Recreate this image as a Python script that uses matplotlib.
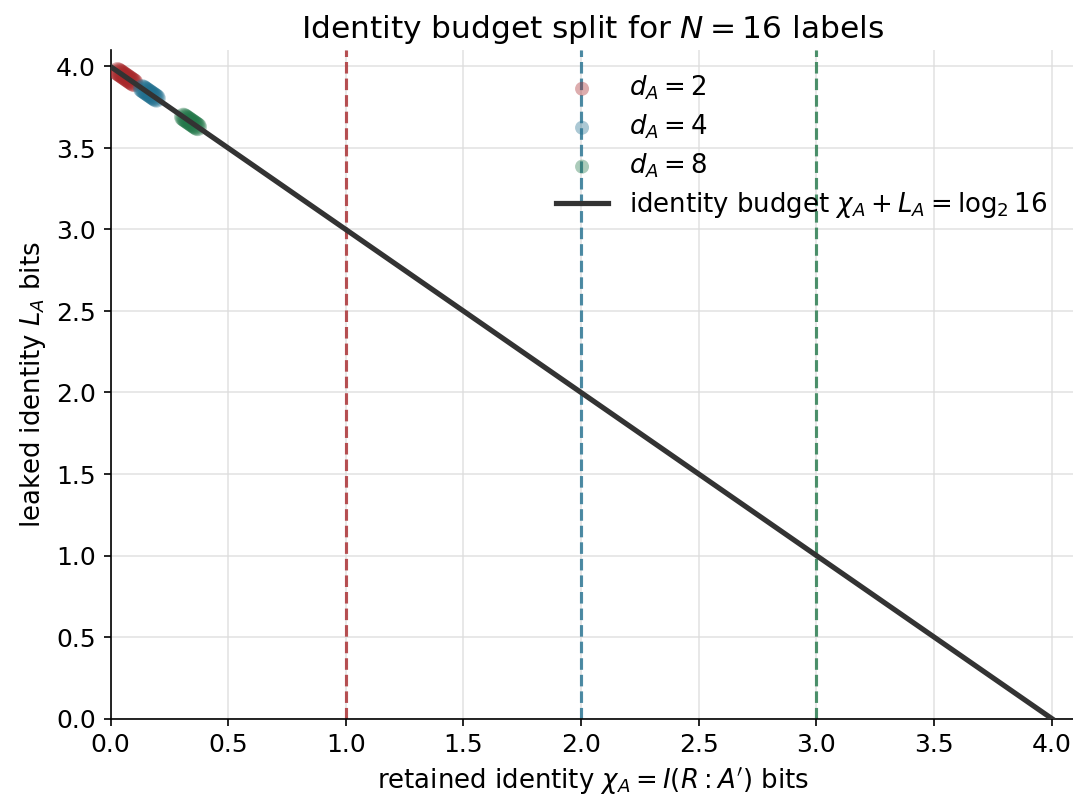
import matplotlib
matplotlib.use("Agg")
import matplotlib.pyplot as plt
import numpy as np

N_LABELS = 16
LOG2N = 4.0

dims = [2, 4, 8]
colors = ["#a8282b", "#22708f", "#23784a"]

# retained identity chi_A per sample
chi_d2 = [0.030, 0.035, 0.040, 0.045, 0.050, 0.055, 0.060, 0.065, 0.070, 0.075, 0.080, 0.085, 0.090, 0.095, 0.100]
chi_d4 = [0.135, 0.140, 0.145, 0.150, 0.155, 0.160, 0.165, 0.170, 0.175, 0.180, 0.185, 0.190, 0.195]
chi_d8 = [0.310, 0.315, 0.320, 0.325, 0.330, 0.335, 0.340, 0.345, 0.350, 0.355, 0.360, 0.365, 0.370]
# leaked identity L_A per sample
leak_d2 = [3.970, 3.965, 3.960, 3.955, 3.950, 3.945, 3.940, 3.935, 3.930, 3.925, 3.920, 3.915, 3.910, 3.905, 3.900]
leak_d4 = [3.865, 3.860, 3.855, 3.850, 3.845, 3.840, 3.835, 3.830, 3.825, 3.820, 3.815, 3.810, 3.805]
leak_d8 = [3.690, 3.685, 3.680, 3.675, 3.670, 3.665, 3.660, 3.655, 3.650, 3.645, 3.640, 3.635, 3.630]

chi_all = [chi_d2, chi_d4, chi_d8]
leak_all = [leak_d2, leak_d4, leak_d8]
# log2(d_A) marks
vlines = [1.0, 2.0, 3.0]

budget_x = [0.0, LOG2N]
budget_y = [LOG2N, 0.0]

fig = plt.figure(figsize=(1073 / 150, 799 / 150), dpi=150)
ax = fig.add_axes([110.5 / 1073, 80.5 / 799, 964.7 / 1073, 668.3 / 799])

for d, c, xs, ys in zip(dims, colors, chi_all, leak_all):
    ax.scatter(xs, ys, s=80, color=c, alpha=0.38, edgecolors="none",
               label=rf"$d_A = {d}$", zorder=3)

for v, c in zip(vlines, colors):
    ax.axvline(v, color=c, ls="--", lw=1.5, alpha=0.8, zorder=2)

ax.plot(budget_x, budget_y, color="#333333", lw=2.5, zorder=4,
        label=r"identity budget $\chi_A + L_A = \log_2 16$")

ax.set_xlim(0, 4.1)
ax.set_ylim(0, 4.1)
ax.set_xticks(np.arange(0, 4.01, 0.5))
ax.set_yticks(np.arange(0, 4.01, 0.5))
ax.tick_params(labelsize=12)
ax.grid(True, color="#dddddd", lw=0.8, alpha=0.8)
ax.set_axisbelow(True)
for s in ["top", "right"]:
    ax.spines[s].set_visible(False)

ax.set_xlabel(r"retained identity $\chi_A = I(R:A')$ bits", fontsize=12.5)
ax.set_ylabel(r"leaked identity $L_A$ bits", fontsize=12.5)
ax.set_title(rf"Identity budget split for $N = {N_LABELS}$ labels", fontsize=15)
ax.legend(loc="upper right", frameon=False, fontsize=12.5, markerscale=0.75,
          labelspacing=0.4, bbox_to_anchor=(0.995, 1.0))

fig.savefig("out.png", dpi=150)
plt.close(fig)
